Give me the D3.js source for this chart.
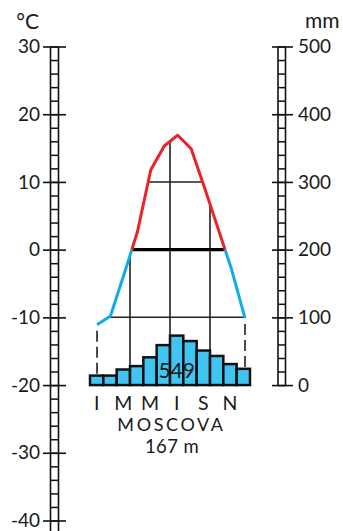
<!DOCTYPE html>
<html>
<head>
<meta charset="utf-8">
<script src="https://cdn.jsdelivr.net/npm/d3@7"></script>
<style>
  body { margin: 0; background: #fff; }
  svg { display: block; }
  text { font-family: Lato, "Noto Sans", sans-serif; fill: #1a1a1a; }
</style>
</head>
<body>
<svg id="chart" width="343" height="531"></svg>
<script>
// Climate diagram data for Moscow (Latin month initials)
const months = ["I", "F", "M", "A", "M", "I", "I", "A", "S", "O", "N", "D"];
const temperature = [-11.1, -9.8, -3.7, 2.6, 11.8, 15.3, 16.9, 14.9, 9.1, 3.1, -2.9, -10.1];
const precipitation = [14, 14, 23, 28, 41, 59, 73, 65, 51, 43, 31, 24];
const annualTotal = 549;
const tempTicks = [30, 20, 10, 0, -10, -20, -30, -40];
const precipTicks = [500, 400, 300, 200, 100, 0];
const station = "MOSCOVA";
const altitude = "167 m";

const svg = d3.select("#chart");
const idx = d3.range(months.length);

// Scales: temperature on the left, precipitation on the right (0 mm = -20 °C)
const yT = d3.scaleLinear().domain([30, -40]).range([46.5, 520.5]);
const yP = d3.scaleLinear().domain([0, 500]).range([yT(-20), yT(30)]);
const xBand = d3.scaleBand().domain(idx).range([90, 250]).padding(0);
const xPt = d3.scalePoint().domain(idx).range([97, 245]);

const curve = d3.curveLinear;
const tempLine = d3.line().x(i => xPt(i)).y(i => yT(temperature[i])).curve(curve);
const tempArea = d3.area().x(i => xPt(i)).y0(yT(-20)).y1(i => yT(temperature[i])).curve(curve);

const defs = svg.append("defs");
defs.append("clipPath").attr("id", "under-curve")
  .append("path").attr("d", tempArea(idx));
defs.append("clipPath").attr("id", "warm")
  .append("rect").attr("x", 0).attr("y", 0).attr("width", 343).attr("height", yT(0));
defs.append("clipPath").attr("id", "cold")
  .append("rect").attr("x", 0).attr("y", yT(0)).attr("width", 343).attr("height", 531 - yT(0));

// ---- Left ladder axis (°C)
const rail = (x, y1, y2) => svg.append("line")
  .attr("x1", x).attr("x2", x).attr("y1", y1).attr("y2", y2)
  .attr("stroke", "#111").attr("stroke-width", 1.6);
rail(50.5, yT(30), yT(-41.7));
rail(58.5, yT(30), yT(-41.7));

svg.append("g").attr("transform", "translate(58.5,0)")
  .call(d3.axisLeft(yT).tickValues(d3.range(30, -41, -2)).tickSize(8).tickFormat(""))
  .call(g => g.select(".domain").remove())
  .call(g => g.selectAll("line").attr("stroke", "#111").attr("stroke-width", 1.5));

svg.append("g").attr("transform", "translate(66,0)")
  .call(d3.axisLeft(yT).tickValues(tempTicks).tickSize(23).tickPadding(3).tickFormat(d => String(d)))
  .call(g => g.select(".domain").remove())
  .call(g => g.selectAll("line").attr("stroke", "#111").attr("stroke-width", 1.6))
  .call(g => g.selectAll("text").attr("font-size", 19).attr("font-family", "Lato, sans-serif").attr("fill", "#1a1a1a"));

svg.append("text").attr("x", 39).attr("y", 28.5).attr("text-anchor", "end")
  .attr("font-size", 21).text("°C");

// ---- Right ladder axis (mm)
rail(278, yP(500), yP(0));
rail(285.5, yP(500), yP(0));

svg.append("g").attr("transform", "translate(278,0)")
  .call(d3.axisRight(yP).tickValues(d3.range(0, 501, 20)).tickSize(7.5).tickFormat(""))
  .call(g => g.select(".domain").remove())
  .call(g => g.selectAll("line").attr("stroke", "#111").attr("stroke-width", 1.5));

svg.append("g").attr("transform", "translate(272,0)")
  .call(d3.axisRight(yP).tickValues(precipTicks).tickSize(21).tickPadding(5).tickFormat(d => String(d)))
  .call(g => g.select(".domain").remove())
  .call(g => g.selectAll("line").attr("stroke", "#111").attr("stroke-width", 1.6))
  .call(g => g.selectAll("text").attr("font-size", 19).attr("font-family", "Lato, sans-serif").attr("fill", "#1a1a1a"));

svg.append("text").attr("x", 305).attr("y", 27.5).attr("text-anchor", "start")
  .attr("font-size", 21).text("mm");

// ---- Grid inside the temperature curve
const grid = svg.append("g").attr("clip-path", "url(#under-curve)");
[3, 6, 9].forEach(i => {
  grid.append("line")
    .attr("x1", xBand(i)).attr("x2", xBand(i))
    .attr("y1", yT(30)).attr("y2", yT(-20))
    .attr("stroke", "#111").attr("stroke-width", 1.5);
});
tempTicks.filter(t => t !== 0).forEach(t => {
  grid.append("line")
    .attr("x1", xPt(0)).attr("x2", xPt(11))
    .attr("y1", yT(t)).attr("y2", yT(t))
    .attr("stroke", "#222").attr("stroke-width", 1.5);
});
grid.append("line")
  .attr("x1", xPt(0)).attr("x2", xPt(11))
  .attr("y1", yT(0)).attr("y2", yT(0))
  .attr("stroke", "#000").attr("stroke-width", 3.2);

// Dashed drop lines at the first and last month
[0, 11].forEach(i => {
  svg.append("line")
    .attr("x1", xPt(i)).attr("x2", xPt(i))
    .attr("y1", yT(temperature[i]) + 6).attr("y2", yP(precipitation[i]))
    .attr("stroke", "#111").attr("stroke-width", 1.5)
    .attr("stroke-dasharray", "11,5");
});

// ---- Precipitation bars
svg.append("g").selectAll("rect").data(idx).join("rect")
  .attr("x", i => xBand(i))
  .attr("y", i => yP(precipitation[i]))
  .attr("width", xBand.bandwidth())
  .attr("height", i => yP(0) - yP(precipitation[i]))
  .attr("fill", "#42c4f2")
  .attr("stroke", "#111")
  .attr("stroke-width", 2.5);

svg.append("text")
  .attr("x", xBand(6) + xBand.bandwidth() / 2)
  .attr("y", yP(0) - 7)
  .attr("text-anchor", "middle")
  .attr("font-size", 21)
  .text(annualTotal);

// ---- Temperature curve: red above 0 °C, blue below
svg.append("path").attr("d", tempLine(idx)).attr("clip-path", "url(#warm)")
  .attr("fill", "none").attr("stroke", "#ea2229").attr("stroke-width", 3)
  .attr("stroke-linejoin", "round");
svg.append("path").attr("d", tempLine(idx)).attr("clip-path", "url(#cold)")
  .attr("fill", "none").attr("stroke", "#10acea").attr("stroke-width", 3)
  .attr("stroke-linejoin", "round");

// ---- Month initials and station labels
svg.append("g").selectAll("text").data(idx.filter(i => i % 2 === 0)).join("text")
  .attr("x", i => xBand(i) + xBand.bandwidth() / 2)
  .attr("y", 410)
  .attr("text-anchor", "middle")
  .attr("font-size", 19.5)
  .text(i => months[i]);

svg.append("text").attr("x", 171.5).attr("y", 431).attr("text-anchor", "middle")
  .attr("font-size", 18).attr("letter-spacing", 2.6).text(station);
svg.append("text").attr("x", 172).attr("y", 453).attr("text-anchor", "middle")
  .attr("font-size", 18.5).attr("letter-spacing", 0.4).text(altitude);
</script>
</body>
</html>
